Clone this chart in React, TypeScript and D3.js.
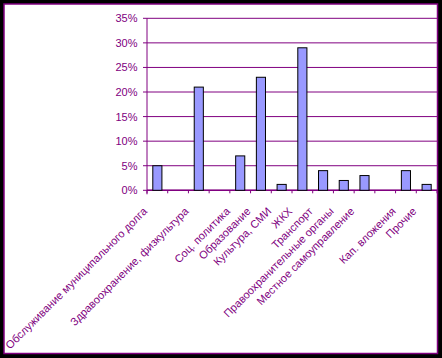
import React from "react";
import * as d3 from "d3";

const categories: string[] = [
  "Обслуживание муниципального долга",
  "",
  "Здравоохранение, физкультура",
  "",
  "Соц. политика",
  "Образование",
  "Культура, СМИ",
  "ЖКХ",
  "Транспорт",
  "Правоохранительные органы",
  "Местное самоуправление",
  "",
  "Кап. вложения",
  "Прочие",
];
const shares: number[] = [0.05, 0, 0.21, 0, 0.07, 0.23, 0.012, 0.29, 0.04, 0.02, 0.03, 0, 0.04, 0.012];
const yTicks: number[] = [0, 0.05, 0.1, 0.15, 0.2, 0.25, 0.3, 0.35];

const W = 442;
const H = 358;
const PURPLE = "#800080";
const FONT = "'Liberation Sans', Arial, sans-serif";

export default function App() {
  const left = 147;
  const right = 437;
  const top = 18.3;
  const bottom = 190.3;
  const x = d3.scaleBand<number>().domain(d3.range(categories.length)).range([left, right]).paddingInner(0).paddingOuter(0);
  const y = d3.scaleLinear().domain([0, 0.35]).range([bottom, top]);
  const bw = x.bandwidth() * 0.44;
  const fmt = d3.format(".0%");
  return (
    <svg width={W} height={H} style={{ position: "absolute", left: 0, top: 0 }}>
      <defs>
        <clipPath id="frame">
          <rect x={5} y={5} width={432} height={348} />
        </clipPath>
      </defs>
      <rect x={0} y={0} width={W} height={H} fill="#000" />
      <rect x={4} y={4} width={433.5} height={349.5} fill="#fff" stroke={PURPLE} strokeWidth={1.5} />
      <g clipPath="url(#frame)">
        {yTicks.map((t) => (
          <g key={t}>
            <line x1={left} x2={right} y1={y(t)} y2={y(t)} stroke={PURPLE} strokeWidth={1} />
            <line x1={left - 4} x2={left} y1={y(t)} y2={y(t)} stroke={PURPLE} strokeWidth={1} />
            <text x={137.5} y={y(t)} dy="0.36em" textAnchor="end" fontFamily={FONT} fontSize={11} fill={PURPLE}>
              {fmt(t)}
            </text>
          </g>
        ))}
        <line x1={left} x2={left} y1={top} y2={bottom + 4} stroke={PURPLE} strokeWidth={1} />
        {d3.range(categories.length + 1).map((i) => {
          const xx = left + i * x.step();
          return <line key={i} x1={xx} x2={xx} y1={bottom} y2={bottom + 3} stroke={PURPLE} strokeWidth={1} />;
        })}
        <line x1={left} x2={right} y1={bottom} y2={bottom} stroke={PURPLE} strokeWidth={1.5} />
        {shares.map((v, i) =>
          v > 0 ? (
            <rect
              key={i}
              x={(x(i) as number) + (x.bandwidth() - bw) / 2}
              y={y(v)}
              width={bw}
              height={bottom - y(v)}
              fill="#9999FF"
              stroke="#000"
              strokeWidth={1}
            />
          ) : null
        )}
        {categories.map((c, i) => {
          const cx = (x(i) as number) + x.bandwidth() / 2 - 9.5;
          const cy = 212;
          return (
            <text
              key={i}
              transform={`translate(${cx},${cy}) rotate(-45)`}
              textAnchor="end"
              fontFamily={FONT}
              fontSize={11}
              fill={PURPLE}
            >
              {c}
            </text>
          );
        })}
      </g>
    </svg>
  );
}
